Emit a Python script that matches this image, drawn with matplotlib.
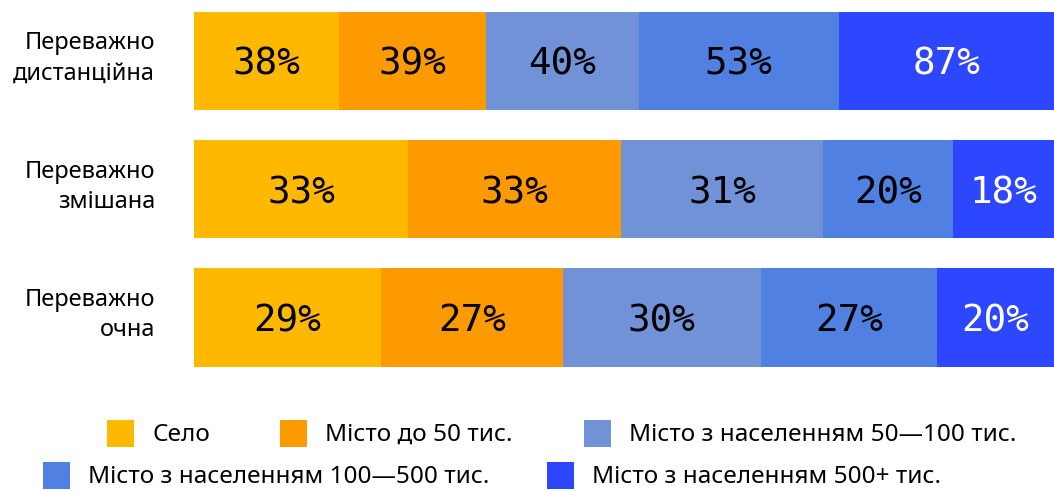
import matplotlib
matplotlib.use("Agg")
import matplotlib.pyplot as plt
from matplotlib.patches import Rectangle
from matplotlib.transforms import blended_transform_factory

# рядки (типи навчання)
rows = ["Переважно\nдистанційна", "Переважно\nзмішана", "Переважно\nочна"]
# категорії населених пунктів
groups = ["Село", "Місто до 50 тис.", "Місто з населенням 50—100 тис.",
          "Місто з населенням 100—500 тис.", "Місто з населенням 500+ тис."]
colors = ["#FFB800", "#FD9A00", "#7292D8", "#4F80E2", "#2D46FF"]
text_colors = ["black", "black", "black", "black", "white"]

# підписи (%)
labels_pct = [
    [38, 39, 40, 53, 87],
    [33, 33, 31, 20, 18],
    [29, 27, 30, 27, 20],
]
# ширина сегментів (частка рядка, %)
shares = [
    [16.9, 17.0, 17.8, 23.3, 25.0],
    [24.9, 24.8, 23.4, 15.2, 11.7],
    [21.7, 21.2, 23.0, 20.5, 13.6],
]

W, H = 1054, 491
fig = plt.figure(figsize=(W / 100, H / 100), dpi=100)
ax = fig.add_axes([194 / W, 1 - 381.5 / H, 1 - 194 / W, 381.5 / H])
row_tr = blended_transform_factory(fig.transFigure, ax.transData)

for i, row in enumerate(rows):
    left = 0
    for j, g in enumerate(groups):
        w = shares[i][j]
        ax.barh(i, w, left=left, height=0.766, color=colors[j], linewidth=0)
        ax.text(left + w / 2, i + 0.03, f"{labels_pct[i][j]}%", ha="center", va="center",
                fontsize=27, color=text_colors[j], family="DejaVu Sans Mono")
        left += w
    ax.text(155 / W, i - 0.02, row, transform=row_tr, ha="right", va="center",
            fontsize=17, family="Noto Sans", linespacing=1.35)

ax.set_xlim(0, sum(shares[0]))
ax.set_ylim(2.5, -0.477)
ax.axis("off")

# легенда вручну (два рядки, як на оригіналі)
leg_pos = [(107, 420), (280, 420), (584, 420), (43, 462), (547, 462)]
for (x, y), g, c in zip(leg_pos, groups, colors):
    fig.patches.append(Rectangle((x / W, 1 - (y + 27) / H), 27 / W, 27 / H,
                                 transform=fig.transFigure, color=c, linewidth=0))
    fig.text((x + 45) / W, 1 - (y + 15) / H, g, ha="left", va="center",
             fontsize=17.5, family="Noto Sans")

fig.savefig("out.png", dpi=100)
